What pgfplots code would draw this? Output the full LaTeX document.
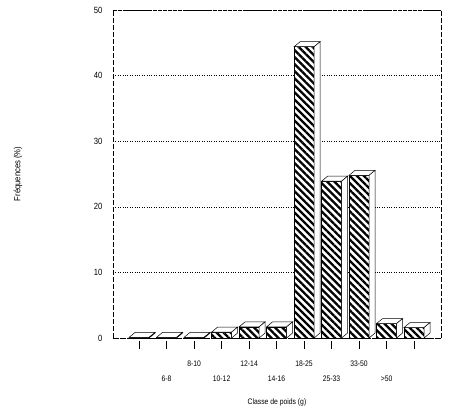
\documentclass[border=0pt]{standalone}
\usepackage{fontspec}
\setmainfont{Liberation Sans}[FakeStretch=0.85]
\usepackage{pgfplots}
\pgfplotsset{compat=1.18}
\usepackage{pgfplotstable}
\usetikzlibrary{patterns.meta}

\pgfplotstableread{
x v
1 0.1
2 0.1
3 0.1
4 0.9
5 1.7
6 1.7
7 44.4
8 23.9
9 24.8
10 2.2
11 1.6
}\datatab

\pgfdeclareplotmark{box3d}{%
  \pgfpathmoveto{\pgfqpoint{-10pt}{0pt}}%
  \pgfpathlineto{\pgfqpoint{-4pt}{5pt}}%
  \pgfpathlineto{\pgfqpoint{16pt}{5pt}}%
  \pgfpathlineto{\pgfqpoint{10pt}{0pt}}%
  \pgfpathclose
  \pgfusepathqfillstroke
  \pgfpathmoveto{\pgfqpoint{10pt}{0pt}}%
  \pgfpathlineto{\pgfqpoint{16pt}{5pt}}%
  \pgfpathlineto{\pgfpoint{16pt}{5pt-\barh pt}}%
  \pgfpathlineto{\pgfpoint{10pt}{-\barh pt}}%
  \pgfpathclose
  \pgfusepathqfillstroke
}
\newcommand\up[1]{\raisebox{0pt}[0pt][0pt]{#1}}
\newcommand\dn[1]{\raisebox{-15pt}[0pt][0pt]{#1}}

\begin{document}
\begin{tikzpicture}
\path[use as bounding box] (-113pt,-75pt) rectangle (337pt,338pt);
\begin{axis}[
  name=ax,
  scale only axis, width=328pt, height=328pt,
  at={(0pt,0pt)}, anchor=south west,
  xmin=0.05, xmax=11.98, ymin=0, ymax=50,
  axis line style={draw=none},
  clip=false,
  ytick={0,10,...,50},
  ymajorgrids,
  grid style={dotted, black, line width=0.5pt},
  ytick style={draw=none},
  yticklabel style={font=\fontsize{9}{10}\selectfont, xshift=1pt},
  /pgf/number format/assume math mode=true,
  xtick={1,...,11},
  xtick pos=bottom, ytick pos=left,
  xticklabels={{},\dn{6-8},\up{8-10},\dn{10-12},\up{12-14},\dn{14-16},\up{18-25},\dn{25-33},\up{33-50},\dn{>50},{}},
  xticklabel style={font=\fontsize{8}{9}\selectfont, anchor=north, yshift=-17pt},
  xtick style={draw=black, line width=0.5pt, yshift=-3pt},
  tick align=outside,
  major tick length=8pt,
  xlabel={Classe de poids (g)},
  ylabel={Fréquences (\%)},
  xlabel style={font=\fontsize{8}{9}\selectfont, at={(axis description cs:0.5,-0.195)}, anchor=center},
  ylabel style={font=\fontsize{9}{10}\selectfont, at={(axis description cs:-0.29,0.5)}, anchor=center},
]
\addplot[ybar, bar width=20pt, bar shift=0pt, draw=black, line width=0.5pt, fill=white,
  postaction={pattern={Lines[angle=-45,distance=5pt,line width=2.3pt]}}]
  table[x=x, y=v] {\datatab};
\addplot[only marks, mark=box3d, mark options={fill=white, draw=black, line width=0.5pt},
  visualization depends on={\thisrow{v}*6.56 \as \barh}]
  table[x=x, y=v] {\datatab};
\end{axis}
\draw[line width=0.5pt, dash pattern=on 6pt off 1pt] (ax.south west) -- (ax.south east);
\draw[line width=0.9pt, dash pattern=on 5pt off 2pt] (ax.south west) -- (ax.north west);
\draw[line width=0.9pt, dash pattern=on 5pt off 2pt] (ax.south east) -- (ax.north east);
\draw[line width=0.5pt, dash pattern=on 4pt off 1pt] (ax.north west) -- (ax.north east);
\end{tikzpicture}
\end{document}
